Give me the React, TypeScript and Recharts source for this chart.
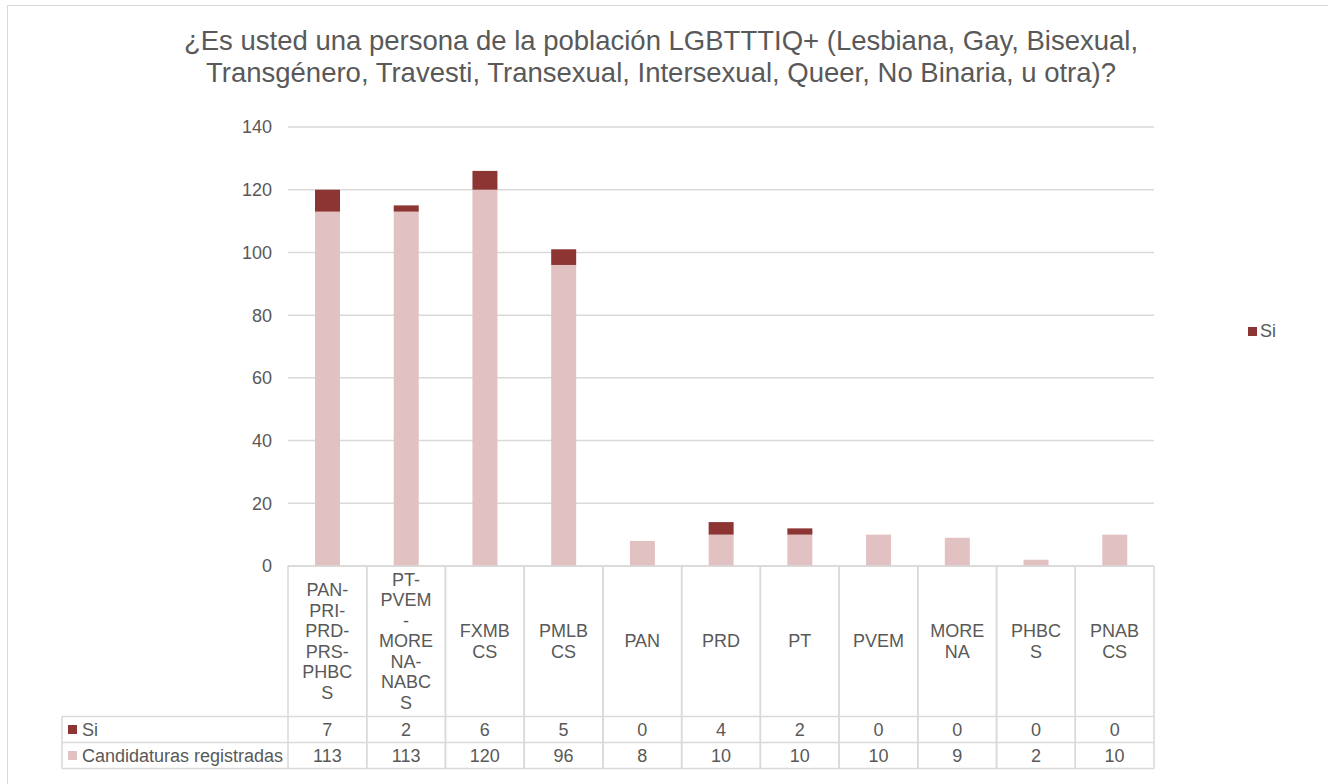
import { BarChart, Bar, XAxis, YAxis, CartesianGrid } from 'recharts';

const categories = ['PAN-PRI-PRD-PRS-PHBCS', 'PT-PVEM-MORENA-NABCS', 'FXMBCS', 'PMLBCS', 'PAN', 'PRD', 'PT', 'PVEM', 'MORENA', 'PHBCS', 'PNABCS'];
const si = [7, 2, 6, 5, 0, 4, 2, 0, 0, 0, 0];
const registradas = [113, 113, 120, 96, 8, 10, 10, 10, 9, 2, 10];
const yTicks = [0, 20, 40, 60, 80, 100, 120, 140];

const SI_COLOR = '#8C3533';
const REG_COLOR = '#E2C1C3';
const GRID = '#D9D9D9';
const TEXT = '#595959';
const FONT = '"Liberation Sans", Arial, sans-serif';

const data = categories.map((name, i) => ({ name, si: si[i], registradas: registradas[i] }));

// chart geometry
const W = 1328;
const H = 784;
const PLOT_LEFT = 288;
const PLOT_RIGHT = 1154;
const PLOT_TOP = 127;
const PLOT_BOTTOM = 566;
const CELL_W = (PLOT_RIGHT - PLOT_LEFT) / categories.length;
const HEAD_H = 150.5;
const ROW_H = 26;
const LABEL_LEFT = 62;

// excel-like wrap: break after hyphens, then chunk at 4 chars
const wrap = (s: string) => {
  const parts = s.match(/[^-]*-|[^-]+/g) || [s];
  const lines: string[] = [];
  parts.forEach((p) => {
    for (let i = 0; i < p.length; i += 4) lines.push(p.slice(i, i + 4));
  });
  return lines;
};

const TableTick = (props: any) => {
  const { x, y, payload } = props;
  const idx = payload.index;
  const l = x - CELL_W / 2;
  const r = x + CELL_W / 2;
  const y1 = y + HEAD_H;
  const y2 = y1 + ROW_H;
  const y3 = y2 + ROW_H;
  const lines = wrap(categories[idx]);
  const lh = 20.5;
  const mid = y + HEAD_H / 2;
  const start = mid - ((lines.length - 1) * lh) / 2;
  return (
    <g fontFamily={FONT} fontSize={18} fill={TEXT}>
      <line x1={l} x2={l} y1={y} y2={y3} stroke={GRID} strokeWidth={1.5} />
      <line x1={r} x2={r} y1={y} y2={y3} stroke={GRID} strokeWidth={1.5} />
      <line x1={l} x2={r} y1={y1} y2={y1} stroke={GRID} strokeWidth={1.5} />
      <line x1={l} x2={r} y1={y2} y2={y2} stroke={GRID} strokeWidth={1.5} />
      <line x1={l} x2={r} y1={y3} y2={y3} stroke={GRID} strokeWidth={1.5} />
      {lines.map((t, i) => (
        <text key={i} x={x} y={start + i * lh} textAnchor="middle" dominantBaseline="central">
          {t}
        </text>
      ))}
      <text x={x} y={y1 + ROW_H / 2} textAnchor="middle" dominantBaseline="central">
        {si[idx]}
      </text>
      <text x={x} y={y2 + ROW_H / 2} textAnchor="middle" dominantBaseline="central">
        {registradas[idx]}
      </text>
      {idx === 0 && (
        <g>
          <line x1={LABEL_LEFT} x2={l} y1={y1} y2={y1} stroke={GRID} strokeWidth={1.5} />
          <line x1={LABEL_LEFT} x2={l} y1={y2} y2={y2} stroke={GRID} strokeWidth={1.5} />
          <line x1={LABEL_LEFT} x2={l} y1={y3} y2={y3} stroke={GRID} strokeWidth={1.5} />
          <line x1={LABEL_LEFT} x2={LABEL_LEFT} y1={y1} y2={y3} stroke={GRID} strokeWidth={1.5} />
          <rect x={LABEL_LEFT + 6} y={y1 + ROW_H / 2 - 4.5} width={9} height={9} fill={SI_COLOR} />
          <text x={LABEL_LEFT + 20} y={y1 + ROW_H / 2} dominantBaseline="central">Si</text>
          <rect x={LABEL_LEFT + 6} y={y2 + ROW_H / 2 - 4.5} width={9} height={9} fill={REG_COLOR} />
          <text x={LABEL_LEFT + 20} y={y2 + ROW_H / 2} dominantBaseline="central">Candidaturas registradas</text>
        </g>
      )}
    </g>
  );
};

const App = () => {
  return (
    <div style={{ position: 'absolute', left: 0, top: 0, width: W, height: H, overflow: 'hidden', background: '#fff' }}>
      <div
        style={{
          position: 'absolute',
          left: 7,
          top: 5,
          width: W + 20,
          height: H + 20,
          border: `1px solid ${GRID}`,
        }}
      />
      <div
        style={{
          position: 'absolute',
          left: 0,
          top: 25,
          width: 1322,
          textAlign: 'center',
          fontFamily: FONT,
          fontSize: 27.5,
          lineHeight: '32px',
          color: TEXT,
        }}
      >
        ¿Es usted una persona de la población LGBTTTIQ+ (Lesbiana, Gay, Bisexual,
        <br />
        Transgénero, Travesti, Transexual, Intersexual, Queer, No Binaria, u otra)?
      </div>
      <div
        style={{
          position: 'absolute',
          left: 1248,
          top: 321,
          display: 'flex',
          alignItems: 'center',
          fontFamily: FONT,
          fontSize: 18,
          color: TEXT,
        }}
      >
        <span style={{ width: 9, height: 9, background: SI_COLOR, display: 'inline-block', marginRight: 3 }} />
        Si
      </div>
      <div style={{ position: 'absolute', left: 0, top: 0 }}>
        <BarChart
          width={W}
          height={H}
          data={data}
          barSize={25}
          margin={{ top: PLOT_TOP, right: W - PLOT_RIGHT, left: PLOT_LEFT - 60, bottom: 14 }}
        >
          <CartesianGrid vertical={false} stroke={GRID} strokeWidth={1.5} />
          <XAxis
            dataKey="name"
            interval={0}
            height={H - PLOT_BOTTOM - 14}
            tickSize={0}
            tickMargin={0}
            axisLine={{ stroke: GRID, strokeWidth: 1.5 }}
            tickLine={false}
            tick={<TableTick />}
          />
          <YAxis
            width={60}
            domain={[0, 140]}
            ticks={yTicks}
            interval={0}
            axisLine={false}
            tickLine={false}
            tickSize={0}
            tickMargin={16}
            tick={{ fill: TEXT, fontSize: 18, fontFamily: FONT }}
          />
          <Bar dataKey="registradas" stackId="a" fill={REG_COLOR} isAnimationActive={false} />
          <Bar dataKey="si" stackId="a" fill={SI_COLOR} isAnimationActive={false} />
        </BarChart>
      </div>
    </div>
  );
};

export default App;
